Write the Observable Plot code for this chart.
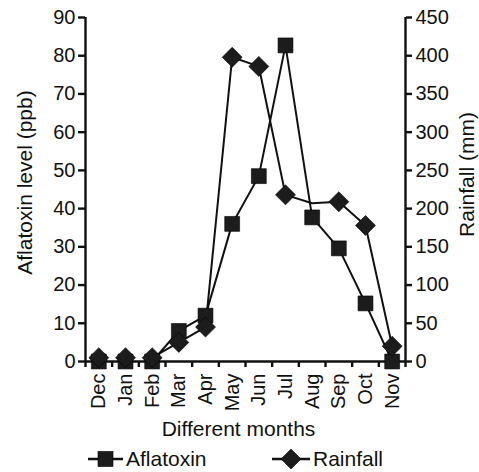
<!DOCTYPE html>
<html>
<head>
<meta charset="utf-8">
<script src="https://cdn.jsdelivr.net/npm/d3@7"></script>
<script src="https://cdn.jsdelivr.net/npm/@observablehq/plot@0.6"></script>
<style>
  body { margin: 0; background: #fff; font-family: "Liberation Sans", Arial, sans-serif; }
  #wrap { position: relative; width: 479px; height: 472px; }
  #legend { position: absolute; left: 0; top: 446px; width: 479px; height: 26px; font-size: 21px; color: #111; }
  .item { position: absolute; top: 0; display: flex; align-items: center; height: 26px; }
  .item svg { display: block; }
</style>
</head>
<body>
<div id="wrap">
  <div id="chart"></div>
  <div id="legend"></div>
</div>
<script>
// ---- data ----
const months = ["Dec","Jan","Feb","Mar","Apr","May","Jun","Jul","Aug","Sep","Oct","Nov"];
const aflatoxin = [0, 0, 0, 8, 12, 36, 48.5, 82.7, 37.7, 29.6, 15.2, 0];      // ppb
const rainfall  = [5, 5, 5, 25, 45, 398, 386, 218, 207, 209, 178, 20];       // mm
const lineStartMonth = "Feb";          // connecting lines begin at this month
const rainfallNoMarker = ["Aug"];      // rainfall vertex drawn without a marker
const leftTicks = [0,10,20,30,40,50,60,70,80,90];
const rightTicks = [0,50,100,150,200,250,300,350,400,450];
const seriesNames = ["Aflatoxin", "Rainfall"];

// ---- build table ----
const rainToLeft = 90 / 450;
const data = months.map((m, i) => ({month: m, i, afl: aflatoxin[i], rain: rainfall[i], rainL: rainfall[i] * rainToLeft}));
const startIdx = months.indexOf(lineStartMonth);
const lineData = data.filter(d => d.i >= startIdx);
const rainDots = data.filter(d => !rainfallNoMarker.includes(d.month));

const ink = "#111";
const fillC = "#1c1c1c";
const sw = 2.4;

const chart = Plot.plot({
  width: 479,
  height: 440,
  marginLeft: 85,
  marginRight: 74,
  marginTop: 17,
  marginBottom: 79,
  style: {fontFamily: "'Liberation Sans', Arial, sans-serif", fontSize: "20px", color: ink, background: "#fff", overflow: "visible"},
  x: {type: "linear", domain: [-0.5, months.length - 0.5]},
  y: {domain: [0, 90]},
  marks: [
    // frame lines
    Plot.ruleX([-0.5], {y1: 0, y2: 90, stroke: ink, strokeWidth: sw}),
    Plot.ruleX([months.length - 0.5], {y1: 0, y2: 90, stroke: ink, strokeWidth: sw}),
    Plot.ruleY([0], {stroke: ink, strokeWidth: sw}),
    // left axis
    Plot.axisY({anchor: "left", ticks: leftTicks, tickSize: 7, tickPadding: 3, strokeWidth: sw, label: null}),
    // right axis (rainfall, scaled)
    Plot.axisY({anchor: "right", ticks: rightTicks.map(v => v * rainToLeft), tickFormat: v => String(Math.round(v / rainToLeft)), tickSize: 6, tickPadding: 4, strokeWidth: sw, label: null}),
    // x axis boundary ticks
    Plot.axisX({ticks: d3.range(-0.5, months.length, 1), tickFormat: () => "", tickSize: 6, strokeWidth: sw, label: null}),
    // x axis month labels
    Plot.axisX({ticks: d3.range(months.length), tickFormat: i => months[i], tickSize: 0, tickPadding: 12, tickRotate: -90, label: null}),
    // axis titles
    Plot.text(["Aflatoxin level (ppb)"], {frameAnchor: "left", textAnchor: "middle", rotate: -90, dx: -60, dy: -7, fontSize: 21, fill: ink}),
    Plot.text(["Rainfall (mm)"], {frameAnchor: "right", textAnchor: "middle", rotate: -90, dx: 62, dy: -15, fontSize: 21, fill: ink}),
    Plot.text(["Different months"], {frameAnchor: "bottom", dy: 74, dx: -7, lineAnchor: "bottom", fontSize: 21, fill: ink}),
    // lines
    Plot.line(lineData, {x: "i", y: "afl", stroke: ink, strokeWidth: 2}),
    Plot.line(lineData, {x: "i", y: "rainL", stroke: ink, strokeWidth: 2}),
    // markers
    Plot.dot(data, {x: "i", y: "afl", symbol: "square", r: 8.4, fill: fillC, stroke: "#000", strokeWidth: 0.6}),
    Plot.dot(rainDots, {x: "i", y: "rainL", symbol: "diamond2", r: 9, fill: fillC, stroke: "#000", strokeWidth: 0.6})
  ]
});
document.getElementById("chart").appendChild(chart);

// ---- legend ----
const legend = document.getElementById("legend");
function addItem(left, name, shape, lineW) {
  const it = document.createElement("div");
  it.className = "item";
  it.style.left = left + "px";
  const s = d3.create("svg").attr("width", lineW).attr("height", 26);
  s.append("line").attr("x1", 0).attr("x2", lineW).attr("y1", 13).attr("y2", 13).attr("stroke", ink).attr("stroke-width", 2.4);
  const c = lineW / 2;
  if (shape === "square") {
    s.append("rect").attr("x", c - 7.5).attr("y", 13 - 7.5).attr("width", 15).attr("height", 15).attr("fill", fillC).attr("stroke", "#000").attr("stroke-width", 0.6);
  } else {
    s.append("path").attr("d", `M${c},${13 - 10}L${c + 10},13L${c},${13 + 10}L${c - 10},13Z`).attr("fill", fillC).attr("stroke", "#000").attr("stroke-width", 0.6);
  }
  it.appendChild(s.node());
  const t = document.createElement("span");
  t.textContent = name;
  t.style.marginLeft = "3px";
  it.appendChild(t);
  legend.appendChild(it);
}
addItem(88, seriesNames[0], "square", 35);
addItem(272, seriesNames[1], "diamond", 38);
</script>
</body>
</html>
